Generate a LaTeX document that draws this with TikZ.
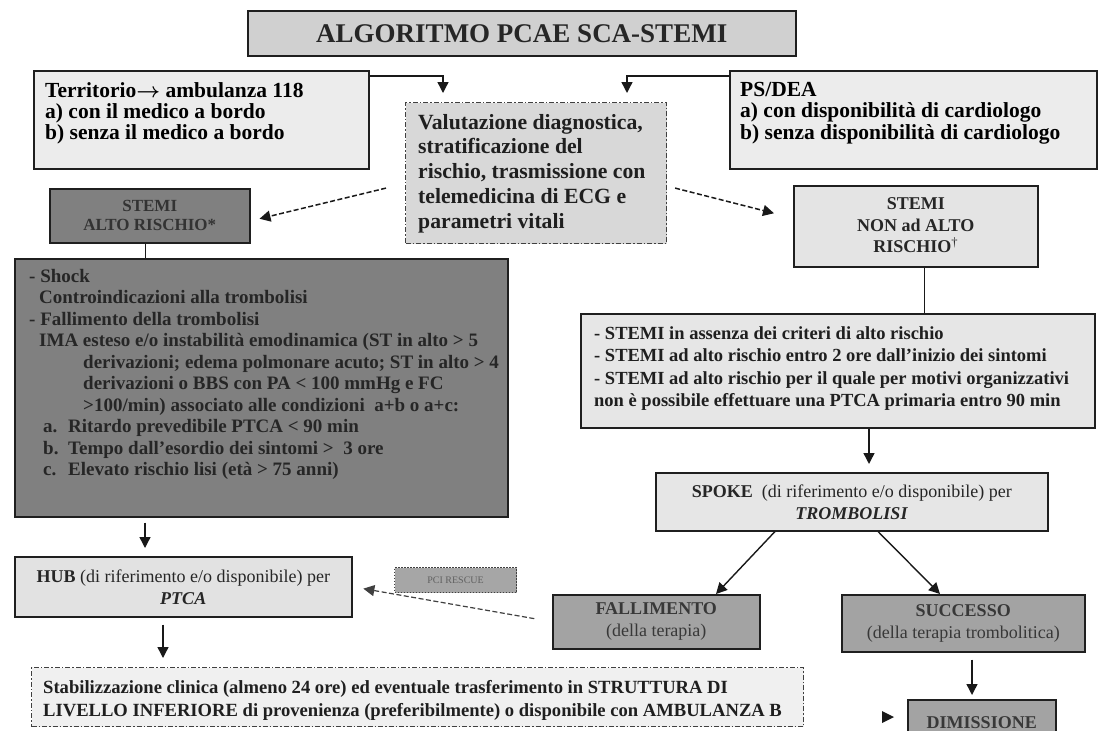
\documentclass[tikz,border=0pt]{standalone}
\usepackage{fontspec}
\setmainfont{Liberation Serif}
\usetikzlibrary{arrows.meta,calc}
\definecolor{gTitle}{HTML}{D0D0D0}
\definecolor{gLight}{HTML}{ECECEC}
\definecolor{gVal}{HTML}{D8D8D8}
\definecolor{gDark}{HTML}{808080}
\definecolor{gNon}{HTML}{E4E4E4}
\definecolor{gCrit}{HTML}{E6E6E6}
\definecolor{gHub}{HTML}{E2E2E2}
\definecolor{gMid}{HTML}{A3A3A3}
\definecolor{gStab}{HTML}{F0F0F0}
\definecolor{gPci}{HTML}{A6A6A6}
\newcommand\fsz[2]{\fontsize{#1}{#2}\selectfont}
\begin{document}
\begin{tikzpicture}[x=1pt,y=-1pt,
  bx/.style={draw=black!88, line width=1.5pt, anchor=north west, inner sep=0pt, align=center},
  ddash/.style={draw=black!75, line width=1.1pt, dash pattern=on 5pt off 2pt on 1.5pt off 2pt},
  dotb/.style={draw=black!75, line width=1.1pt, dash pattern=on 1.5pt off 1.5pt},
  tx/.style={anchor=north west, inner sep=0pt, align=left},
  arr/.style={-{Triangle[length=11pt,width=11pt]}, line width=1.4pt, draw=black!90},
  darr/.style={arr, line width=1.5pt, dash pattern=on 5pt off 2.5pt},
  cline/.style={line width=1.4pt, draw=black!90},
]
\useasboundingbox (0,0) rectangle (1098,731);
\clip (0,0) rectangle (1098,731);

% title
\node[bx, fill=gTitle, minimum width=548pt, minimum height=45pt, font=\fsz{27}{30}\bfseries, text=black!85] (title) at (247,10) {ALGORITMO PCAE SCA-STEMI};

% top boxes
\node[bx, fill=gLight, minimum width=335pt, minimum height=98pt] (ter) at (33,70) {};
\node[tx, font=\fsz{21.5}{21}\bfseries] (terT) at (45,82) {Territorio{\boldmath$\rightarrow$} ambulanza 118\\a) con il medico a bordo\\b) senza il medico a bordo};

\node[bx, fill=gLight, minimum width=367pt, minimum height=98pt] (ps) at (729,70) {};
\node[tx, font=\fsz{21.5}{21.5}\bfseries] (psT) at (740,82) {PS/DEA\\a) con disponibilità di cardiologo\\b) senza disponibilità di cardiologo};

\node[bx, ddash, fill=gVal, minimum width=261pt, minimum height=141pt] (val) at (405,102) {};
\node[tx, font=\fsz{21.7}{24.7}\bfseries, text=black!88] (valT) at (418,114) {Valutazione diagnostica,\\stratificazione del\\rischio, trasmissione con\\telemedicina di ECG e\\parametri vitali};

\coordinate (aL) at (443,76);
\coordinate (aR) at (627,76);
\draw[arr, shorten >=9pt] (ter.east |- aL) -- (aL) -- (val.north -| aL);
\draw[arr, shorten >=9pt] (ps.west |- aR) -- (aR) -- (val.north -| aR);

% STEMI boxes
\node[bx, fill=gDark, minimum width=200pt, minimum height=54pt, font=\fsz{17}{19}\bfseries, text=black!80] (alto) at (49,188) {STEMI\\ALTO RISCHIO*};
\node[bx, fill=gNon, minimum width=244pt, minimum height=81pt] (non) at (793,185) {};
\node[font=\fsz{18}{21.5}\bfseries, text=black!85, align=center, inner sep=0pt] (nonT) at ($(non.center)+(0,-1)$) {STEMI\\NON ad ALTO\\RISCHIO\textsuperscript{\mdseries †}};

\coordinate (dL1) at ($(val.south west)+(-19,-56)$);
\coordinate (dL2) at ($(alto.east)+(9,3)$);
\coordinate (dR1) at ($(val.south east)+(8,-56)$);
\coordinate (dR2) at ($(non.west)+(-19,-13)$);
\draw[darr] (dL1) -- (dL2);
\draw[darr] (dR1) -- (dR2);

% big dark box
\node[bx, fill=gDark, minimum width=493pt, minimum height=258pt] (big) at (14,258) {};
\node[tx, font=\fsz{19}{21.5}\bfseries, text=black!85] (bigT) at (29,269) {%
- Shock\\
\hspace*{10pt}Controindicazioni alla trombolisi\\
- Fallimento della trombolisi\\
\hspace*{10pt}IMA esteso e/o instabilità emodinamica (ST in alto > 5\\
\hspace*{54pt}derivazioni; edema polmonare acuto; ST in alto > 4\\
\hspace*{54pt}derivazioni o BBS con PA < 100 mmHg e FC\\
\hspace*{54pt}>100/min) associato alle condizioni \ a+b o a+c:\\
\hspace*{14pt}\makebox[25pt][l]{a.}Ritardo prevedibile PTCA < 90 min\\
\hspace*{14pt}\makebox[25pt][l]{b.}Tempo dall’esordio dei sintomi > \ 3 ore\\
\hspace*{14pt}\makebox[25pt][l]{c.}Elevato rischio lisi (età > 75 anni)};
\coordinate (pA) at ($(alto.south)+(-4,0)$);
\draw[cline] (pA) -- (pA |- big.north);

% criteria box
\node[bx, fill=gCrit, minimum width=514pt, minimum height=114pt] (crit) at (580,313) {};
\node[tx, font=\fsz{18.5}{22.5}\bfseries, text=black!88] (critT) at (594,326) {%
- STEMI in assenza dei criteri di alto rischio\\
- STEMI ad alto rischio entro 2 ore dall’inizio dei sintomi\\
- STEMI ad alto rischio per il quale per motivi organizzativi\\
non è possibile effettuare una PTCA primaria entro 90 min};
\coordinate (pN) at ($(non.south)+(9,0)$);
\draw[cline] (pN) -- (pN |- crit.north);

% HUB
\node[bx, fill=gHub, minimum width=337pt, minimum height=60pt, font=\fsz{18}{22}, text=black!85] (hub) at (14,556) {\textbf{HUB} (di riferimento e/o disponibile) per\\\textbf{\textit{PTCA}}};
\coordinate (pB) at ($(big.south west)+(131,0)$);
\draw[arr, shorten <=5pt, shorten >=8pt] (pB) -- (pB |- hub.north);

% stabilizzazione
\node[bx, ddash, fill=gStab, minimum width=772pt, minimum height=59pt] (stab) at (31,667) {};
\node[tx, font=\fsz{18.6}{23}\bfseries, text=black!88] (stabT) at (43,680) {Stabilizzazione clinica (almeno 24 ore) ed eventuale trasferimento in STRUTTURA DI\\LIVELLO INFERIORE di provenienza (preferibilmente) o disponibile con AMBULANZA B};
\coordinate (pH) at ($(hub.south west)+(149,0)$);
\draw[arr, shorten <=7pt, shorten >=9pt] (pH) -- (pH |- stab.north);

% SPOKE
\node[bx, fill=gCrit, minimum width=392pt, minimum height=58pt, font=\fsz{18}{22}, text=black!85] (spoke) at (655,472) {\textbf{SPOKE}\ \ (di riferimento e/o disponibile) per\\\textbf{\textit{TROMBOLISI}}};
\coordinate (pC) at ($(crit.south west)+(289,0)$);
\draw[arr, shorten >=8pt] (pC) -- (pC |- spoke.north);

% outcomes
\node[bx, fill=gMid, minimum width=207pt, minimum height=54pt, font=\fsz{18}{22}\bfseries, text=black!78] (fall) at (552,594) {FALLIMENTO\\{\mdseries (della terapia)}};
\node[bx, fill=gMid, minimum width=243pt, minimum height=57pt, font=\fsz{18}{22}\bfseries, text=black!78] (succ) at (841,594) {SUCCESSO\\{\mdseries (della terapia trombolitica)}};
\coordinate (s1) at ($(spoke.south west)+(120,0)$);
\coordinate (s2) at ($(fall.north west)+(164,0)$);
\coordinate (s3) at ($(spoke.south west)+(223,0)$);
\coordinate (s4) at ($(succ.north west)+(99,0)$);
\draw[arr] (s1) -- (s2);
\draw[arr] (s3) -- (s4);

% PCI rescue
\draw[darr, line width=1.2pt, black!75, shorten <=18pt, shorten >=11pt] (fall.west) -- (hub.east);
\node[bx, dotb, fill=gPci, minimum width=122pt, minimum height=25pt, font=\fsz{10}{11}, text=black!62] (pci) at (394,567) {PCI RESCUE};

% dimissione
\node[bx, fill=gMid, minimum width=148pt, minimum height=45pt, font=\fsz{18}{22}\bfseries, text=black!78] (dim) at (907,699) {DIMISSIONE};
\coordinate (pS) at ($(succ.south west)+(131,0)$);
\draw[arr, shorten <=7pt, shorten >=4pt] (pS) -- (pS |- dim.north);
\fill[black!90] (882,711) -- (894,717) -- (882,723) -- cycle;
\end{tikzpicture}
\end{document}
